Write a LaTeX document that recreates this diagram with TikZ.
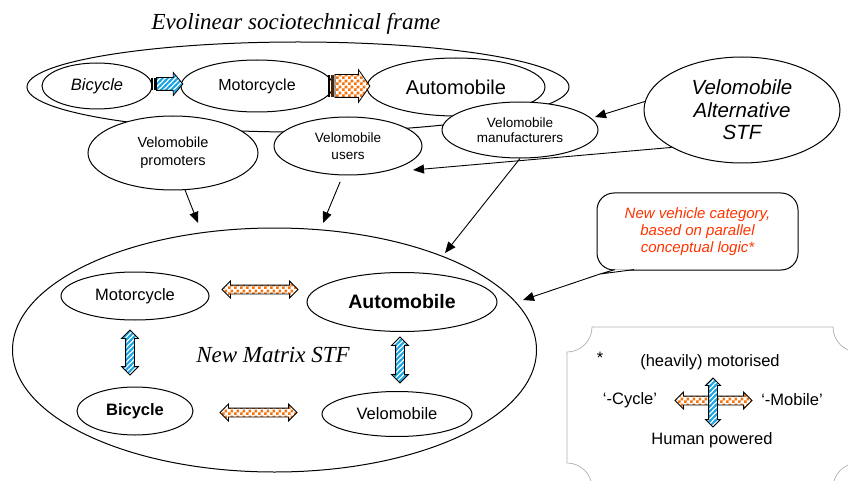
\documentclass[tikz,border=0pt]{standalone}
\usepackage{fontspec}
\setmainfont{Liberation Serif}
\setsansfont{Liberation Sans}
\usetikzlibrary{shapes.geometric,shapes.arrows,arrows.meta,patterns}
\definecolor{bluec}{RGB}{30,165,230}
\definecolor{orangec}{RGB}{245,115,10}
\definecolor{redc}{RGB}{255,51,0}
\definecolor{legendc}{RGB}{175,175,175}
\newcommand\myfs[2]{\fontsize{#1}{#2}\selectfont}
\pgfdeclarepatternformonly{bstripes}{\pgfqpoint{-1pt}{-1pt}}{\pgfqpoint{6pt}{6pt}}{\pgfqpoint{5pt}{5pt}}{%
  \pgfsetlinewidth{2pt}%
  \pgfpathmoveto{\pgfqpoint{-1pt}{-1pt}}\pgfpathlineto{\pgfqpoint{6pt}{6pt}}%
  \pgfpathmoveto{\pgfqpoint{-1pt}{4pt}}\pgfpathlineto{\pgfqpoint{1pt}{6pt}}%
  \pgfpathmoveto{\pgfqpoint{4pt}{-1pt}}\pgfpathlineto{\pgfqpoint{6pt}{1pt}}%
  \pgfusepath{stroke}}
\pgfdeclarepatternformonly{checks}{\pgfqpoint{0pt}{0pt}}{\pgfqpoint{6pt}{6pt}}{\pgfqpoint{6pt}{6pt}}{%
  \pgfpathrectangle{\pgfqpoint{0pt}{0pt}}{\pgfqpoint{3pt}{3pt}}%
  \pgfpathrectangle{\pgfqpoint{3pt}{3pt}}{\pgfqpoint{3pt}{3pt}}%
  \pgfusepath{fill}}
\begin{document}
\begin{tikzpicture}[x=1pt,y=-1pt,
  ell/.style={ellipse, draw, line width=1pt, fill=white, inner sep=0pt, align=center},
  arr/.style={-{Triangle[length=11pt,width=9pt]}, line width=0.9pt},
  blu/.style={draw, line width=0.8pt, preaction={fill=white}, pattern=bstripes, pattern color=bluec},
  org/.style={draw, line width=0.8pt, preaction={fill=white}, pattern=checks, pattern color=orangec},
  darrow/.style={double arrow, double arrow head extend=4pt, inner sep=0pt, inner ysep=4pt, minimum width=0pt},
  sarrow/.style={single arrow, inner sep=0pt, minimum width=0pt, anchor=tail},
  lbl/.style={font=\sffamily\myfs{16.5}{19}, inner sep=0pt},
  legendline/.style={draw=legendc, line width=0.7pt}
]
\clip (0,0) rectangle (848,481);

% ---- Evolinear frame ----
\node[font=\rmfamily\itshape\myfs{23}{27}] (title) at (296,24) {Evolinear sociotechnical frame};
\node[ell, fill=none, minimum width=542pt, minimum height=90pt] (evo) at (298,87) {};
\node[ell, minimum width=110pt, minimum height=46pt, font=\sffamily\itshape\myfs{16.5}{19}] (bic1) at (97,86) {Bicycle};
\node[ell, minimum width=152pt, minimum height=52pt, font=\sffamily\myfs{16}{19}] (mot1) at (257,86) {Motorcycle};
\node[ell, minimum width=178pt, minimum height=58pt, font=\sffamily\myfs{20}{24}] (aut1) at (456,87) {Automobile};

\node[ell, minimum width=170pt, minimum height=74pt, font=\sffamily\myfs{14.5}{18}] (prom) at (173,153) {Velomobile\\promoters};
\node[ell, minimum width=148pt, minimum height=58pt, font=\sffamily\myfs{13.5}{17}] (users) at (348,146) {Velomobile\\users};
\node[ell, minimum width=156pt, minimum height=56pt, font=\sffamily\myfs{13.5}{15.5}] (manu) at (520,130) {Velomobile\\manufacturers};

% evolution arrows
\fill[black] (151,78) rectangle (152.5,90);
\fill[black] (153.5,78) rectangle (155.5,90);
\node[sarrow, blu, single arrow head extend=5pt, single arrow tip angle=100, inner ysep=6pt, minimum height=26.5pt] (ba1) at (156,84) {};
\fill[black] (328,75) rectangle (330,97);
\fill[black!70!orangec] (331,75) rectangle (334,97);
\node[sarrow, org, single arrow head extend=5pt, single arrow tip angle=110, inner ysep=11pt, minimum height=35pt] (oa1) at (334.5,86) {};

% ---- Alternative STF ----
\node[ell, minimum width=196pt, minimum height=106pt, font=\sffamily\itshape\myfs{20.5}{22.5}] (alt) at (742,110) {Velomobile\\Alternative\\STF};

% ---- New Matrix STF ----
\node[ell, fill=none, minimum width=524pt, minimum height=244pt] (matrix) at (274.5,350) {};
\node[font=\rmfamily\itshape\myfs{23}{27}] (mtitle) at (273,355) {New Matrix STF};
\node[ell, minimum width=148pt, minimum height=48pt, font=\sffamily\myfs{16.5}{19}] (mot2) at (135,296) {Motorcycle};
\node[ell, minimum width=190pt, minimum height=59pt, font=\sffamily\bfseries\myfs{19.5}{23}] (aut2) at (402,302) {Automobile};
\node[ell, minimum width=116pt, minimum height=48pt, font=\sffamily\bfseries\myfs{16.5}{19}] (bic2) at (135,411) {Bicycle};
\node[ell, minimum width=150pt, minimum height=45pt, font=\sffamily\myfs{16.5}{19}] (velo2) at (397,414) {Velomobile};

\node[darrow, org, minimum height=76pt] (oh1) at (260,289.5) {};
\node[darrow, org, minimum height=77pt] (oh2) at (258.5,412.5) {};
\node[darrow, blu, rotate=90, minimum height=45pt] (bv1) at (130,352.5) {};
\node[darrow, blu, rotate=90, minimum height=46pt] (bv2) at (400,360) {};

% ---- callout ----
\node[draw, line width=1pt, rounded corners=17pt, minimum width=201pt, minimum height=77pt, align=center,
      text=redc, font=\sffamily\itshape\myfs{15}{17}] (call) at (697.5,231.5)
      {New vehicle category,\\based on parallel\\conceptual logic*};
\coordinate (calltip) at (600,274);
\draw[line width=0.9pt, fill=white] (615,269.6) -- (calltip) -- (634,269.6);

% ---- connectors ----
\coordinate (t1) at (198,223);
\coordinate (t2) at (323,223);
\coordinate (t3) at (445,253);
\coordinate (t4) at (523,300);
\coordinate (t5) at (595,117);
\coordinate (t6) at (413,170);
\draw[arr] (prom.-72) -- (t1);
\draw[arr, shorten <=7pt] (users.-100) -- (t2);
\draw[arr] (manu.south) -- (t3);
\draw[arr] (calltip) -- (t4);
\draw[arr] (alt.175) -- (t5);
\draw[arr] (alt.208.6) -- (t6);

% ---- legend ----
\draw[legendline] (592,327) -- (833,327) .. controls (833,340.8) and (844.2,352) .. (858,352)
  -- (858,463) .. controls (844.2,463) and (833,474.2) .. (833,488)
  -- (592,488) .. controls (592,474.2) and (580.8,463) .. (567,463)
  -- (567,352) .. controls (580.8,352) and (592,340.8) .. (592,327) -- cycle;
\node[lbl] (star) at (600,358) {*};
\node[lbl] (motor) at (710,362) {(heavily) motorised};
\node[lbl] (cyc) at (630,400) {‘-Cycle’};
\node[lbl] (mob) at (792,400) {‘-Mobile’};
\node[lbl] (human) at (712,440) {Human powered};
\node[darrow, org, minimum height=77pt] (lh) at (713.5,400.5) {};
\node[darrow, blu, rotate=90, double arrow head extend=3pt, minimum height=49pt] (lv) at (713,402.5) {};
\end{tikzpicture}
\end{document}
